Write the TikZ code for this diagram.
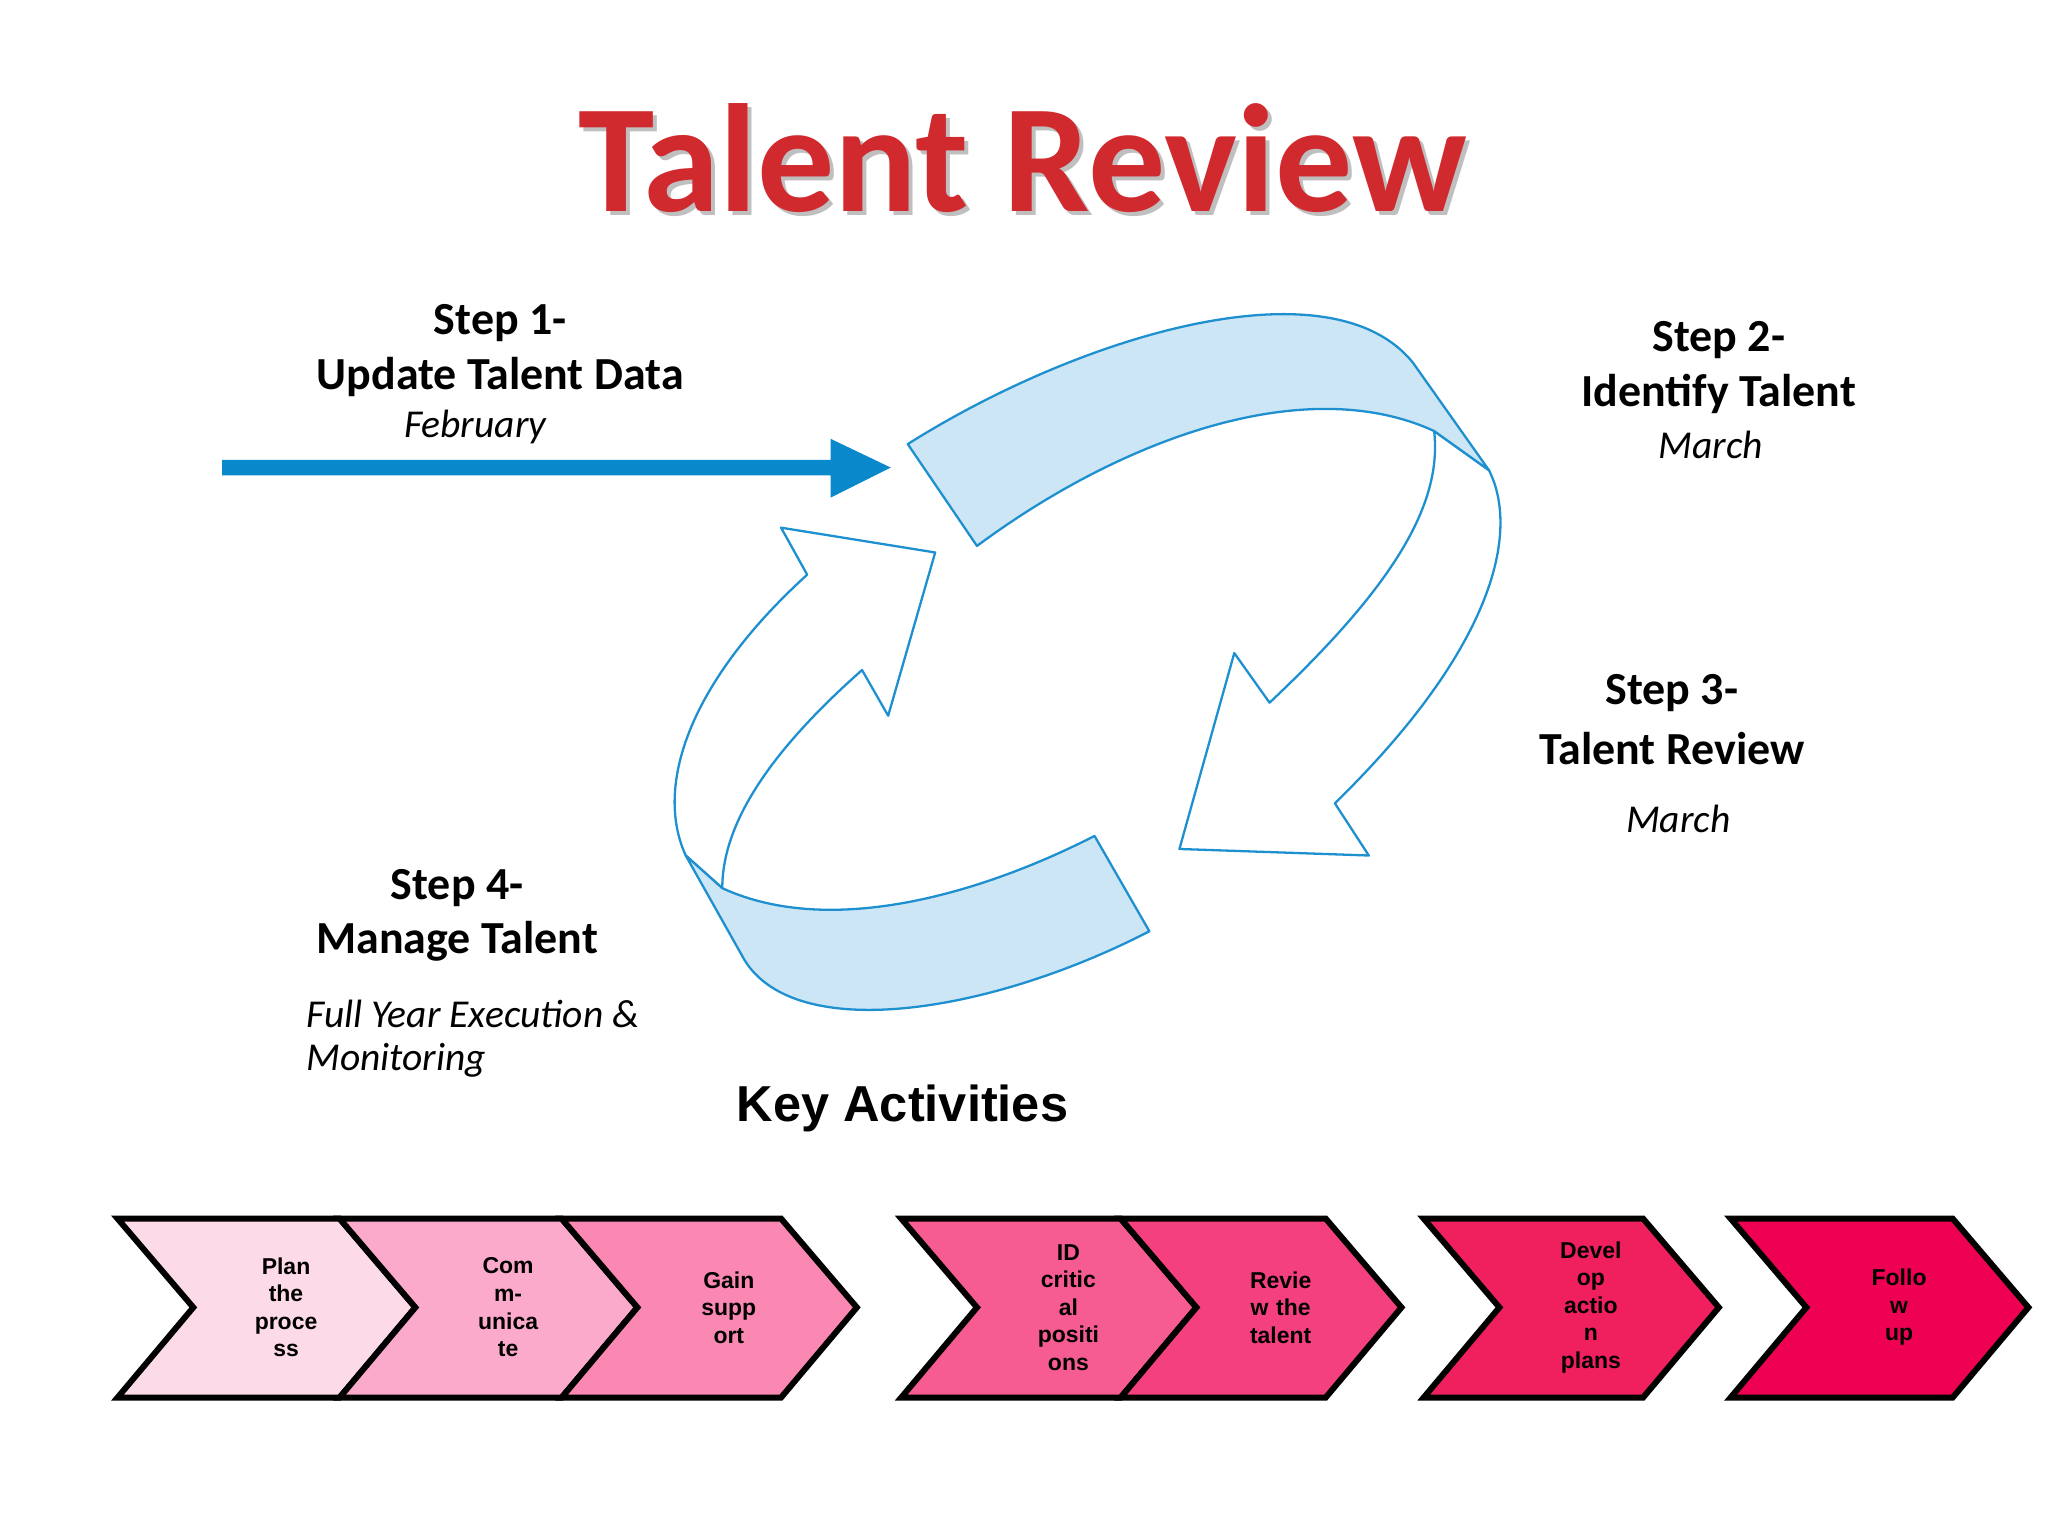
\documentclass[tikz,border=0pt]{standalone}
\usepackage{fontspec}
\setmainfont{Carlito}
\newfontfamily\arialf{Liberation Sans}
\definecolor{ribfill}{HTML}{CDE6F6}
\definecolor{ribline}{HTML}{1E90D0}
\definecolor{bluearr}{HTML}{0A88CC}
\definecolor{titlered}{HTML}{D0292E}
\begin{document}
\begin{tikzpicture}[x=0.01cm,y=-0.01cm,
  stp/.style={font=\bfseries\fontsize{10pt}{12pt}\selectfont,inner sep=0},
  when/.style={font=\itshape\fontsize{8.6pt}{10pt}\selectfont,inner sep=0},
  rib/.style={draw=ribline,line width=0.5pt,fill=ribfill,line join=round},
  outl/.style={draw=ribline,line width=0.5pt,fill=white,line join=round},
  chev/.style={draw=black,line width=1.3pt,line join=miter},
  ctext/.style={font=\arialf\bfseries\fontsize{5pt}{6pt}\selectfont,align=center,inner sep=0}]
\useasboundingbox (0,0) rectangle (1568,1176);
% title
\node[text=black!25,font=\bfseries\fontsize{33.5pt}{40pt}\selectfont] (tsh) at (786,124) {Talent Review};
\node[text=titlered,font=\bfseries\fontsize{33.5pt}{40pt}\selectfont] (title) at (783,121) {Talent Review};
% step texts
\node[stp] (s1a) at (383,247) {Step 1-};
\node[stp] (s1b) at (383,289) {Update Talent Data};
\node[when] (s1c) at (364,327) {February};
\node[stp] (s2a) at (1316,260) {Step 2-};
\node[stp] (s2b) at (1316,302) {Identify Talent};
\node[when] (s2c) at (1310,341) {March};
\node[stp] (s3a) at (1280,531) {Step 3-};
\node[stp] (s3b) at (1280,573) {Talent Review};
\node[when] (s3c) at (1285,627) {March};
\node[stp] (s4a) at (350,680) {Step 4-};
\node[stp] (s4b) at (350,721) {Manage Talent};
\node[when,anchor=west] (s4c) at (234,776) {Full Year Execution \&};
\node[when,anchor=west] (s4d) at (234,812) {Monitoring};
% blue arrow
\fill[bluearr] (170,352) -- (636,352) -- (636,336) -- (682,358) -- (636,381) -- (636,364) -- (170,364) -- cycle;
% top-right cycle arrow
\draw[outl] (1140,360) .. controls (1165,410) and (1140,500) .. (1022,615)
  -- (1048,655) -- (903,650) -- (945,500) -- (972,538)
  .. controls (1060,455) and (1105,390) .. (1098,330) -- cycle;
\draw[rib] (695,340) .. controls (830,255) and (1020,200) .. (1082,278)
  -- (1140,360) -- (1098,330) .. controls (1000,285) and (860,335) .. (748,418) -- cycle;
% bottom-left cycle arrow
\draw[outl] (525,655) .. controls (500,600) and (530,520) .. (618,440)
  -- (598,404) -- (716,423) -- (680,548) -- (660,513)
  .. controls (590,575) and (553,630) .. (553,680) -- cycle;
\draw[rib] (880,713) .. controls (760,775) and (610,800) .. (570,735)
  -- (525,655) -- (553,680) .. controls (640,720) and (760,680) .. (838,640) -- cycle;
% key activities
\node[font=\arialf\bfseries\fontsize{11pt}{13pt}\selectfont,inner sep=0] (ka) at (691,849) {Key Activities};
% chevrons
\foreach \n/\l/\w/\c/\t in {1/90/170/FDDAE7/{Plan\\the\\proce\\ss},2/260/170/FBAACB/{Com\\m-\\unica\\te},3/430/168/FA88B3/{Gain\\supp\\ort},4/690/168/F65B91/{ID\\critic\\al\\positi\\ons},5/858/157/F5407F/{Revie\\w the\\talent},6/1090/168/F0205F/{Devel\\op\\actio\\n\\plans},7/1325/170/EE0152/{Follo\\w\\up}}{
  \definecolor{cc}{HTML}{\c}
  \draw[chev,fill=cc] (\l,933) -- (\l+\w,933) -- (\l+\w+58,1001) -- (\l+\w,1070) -- (\l,1070) -- (\l+58,1001) -- cycle;
  \node[ctext,text width=60] (c\n) at (\l+\w/2+44,1001) {\t};
}
\end{tikzpicture}
\end{document}
